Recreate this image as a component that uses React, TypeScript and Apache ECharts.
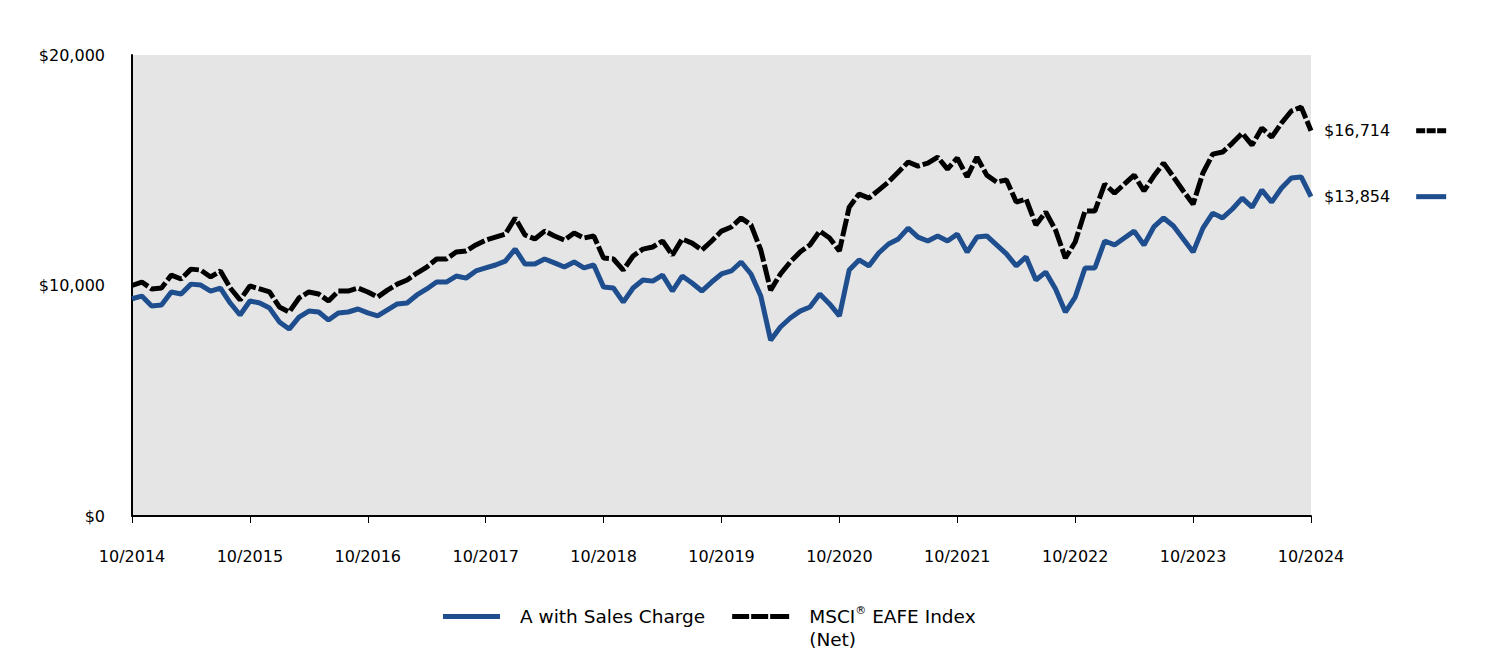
import React, { useEffect, useRef } from "react";
import * as echarts from "echarts";

const months: string[] = [];
for (let i = 0; i <= 120; i++) {
  const m = ((9 + i) % 12) + 1;
  const y = 2014 + Math.floor((9 + i) / 12);
  months.push(`${m}/${y}`);
}

const fundA: number[] = [
  9425, 9540, 9110, 9150, 9720, 9630, 10060, 10020, 9760, 9890, 9240, 8720,
  9330, 9240, 9020, 8420, 8110, 8630, 8890, 8850, 8500, 8810, 8850, 8980,
  8810, 8680, 8940, 9200, 9240, 9590, 9850, 10150, 10150, 10410, 10320, 10630,
  10760, 10890, 11060, 11580, 10930, 10930, 11150, 10980, 10800, 11020, 10760, 10890,
  9930, 9890, 9280, 9890, 10240, 10190, 10450, 9760, 10410, 10110, 9760, 10150,
  10500, 10630, 11020, 10500, 9540, 7630, 8200, 8590, 8890, 9070, 9630, 9200,
  8680, 10670, 11110, 10850, 11410, 11800, 12020, 12490, 12100, 11930, 12150, 11930,
  12230, 11450, 12100, 12150, 11760, 11370, 10850, 11240, 10240, 10580, 9850, 8850,
  9500, 10760, 10760, 11930, 11760, 12060, 12360, 11760, 12540, 12930, 12580, 12020,
  11450, 12490, 13140, 12930, 13320, 13790, 13400, 14140, 13620, 14230, 14660, 14710,
  13854,
];

const eafe: number[] = [
  10000, 10150, 9850, 9890, 10450, 10280, 10710, 10670, 10370, 10630, 9890, 9370,
  9980, 9850, 9720, 9070, 8850, 9460, 9720, 9630, 9330, 9760, 9760, 9890,
  9720, 9500, 9800, 10060, 10240, 10540, 10800, 11150, 11150, 11450, 11500, 11760,
  11970, 12100, 12230, 12930, 12190, 12020, 12360, 12150, 11970, 12280, 12060, 12150,
  11190, 11150, 10670, 11280, 11580, 11670, 11930, 11320, 12020, 11840, 11540, 11930,
  12360, 12540, 12930, 12630, 11540, 9800, 10500, 11020, 11450, 11760, 12360, 12060,
  11500, 13400, 13970, 13790, 14140, 14490, 14920, 15360, 15180, 15310, 15570, 15050,
  15530, 14710, 15570, 14790, 14490, 14580, 13620, 13750, 12630, 13190, 12400, 11190,
  11890, 13230, 13230, 14400, 14010, 14400, 14790, 14100, 14750, 15310, 14710, 14100,
  13530, 14880, 15700, 15790, 16180, 16610, 16090, 16830, 16440, 17050, 17570, 17740,
  16714,
];

const seriesNames = ["A with Sales Charge", "MSCI® EAFE Index (Net)"];
const yTicks = [0, 10000, 20000];

const BLUE = "#1f4e8f";
const BLACK = "#000000";
const FONT = "DejaVu Sans";

const money = (v: number) => "$" + v.toLocaleString("en-US");

export default function App() {
  const ref = useRef<HTMLDivElement>(null);
  useEffect(() => {
    if (!ref.current) return;
    const chart = echarts.init(ref.current, undefined, { renderer: "svg" });
    const showIdx = (i: number) => i % 12 === 0;
    const endRich = {
      v: { fontFamily: FONT, fontSize: 16, color: "#000", verticalAlign: "middle" as const },
      sp: { width: 26, height: 5, verticalAlign: "middle" as const },
      b: { width: 30, height: 5, backgroundColor: BLUE, verticalAlign: "middle" as const },
      d: { width: 9, height: 5, backgroundColor: BLACK, verticalAlign: "middle" as const },
      g: { width: 1.5, height: 5, verticalAlign: "middle" as const },
    };
    chart.setOption({
      animation: false,
      backgroundColor: "#ffffff",
      grid: {
        left: 132,
        right: 177,
        top: 55,
        bottom: 144,
        show: true,
        backgroundColor: "#e5e5e5",
        borderWidth: 0,
      },
      legend: {
        left: 443,
        top: 584,
        padding: 0,
        itemWidth: 57,
        itemHeight: 5,
        itemGap: 27,
        selectedMode: false,
        data: [
          { name: seriesNames[0], icon: "rect", itemStyle: { color: BLUE } },
          {
            name: seriesNames[1],
            icon: "path://M0,0h17v5h-17z M19,0h17v5h-17z M38,0h19v5h-19z",
            itemStyle: { color: BLACK },
          },
        ],
        formatter: (name: string) =>
          name === seriesNames[0]
            ? "{p|A with Sales Charge}"
            : "{p| }\n{p|MSCI}{sup|®}{q| EAFE Index}\n{p|(Net)}",
        textStyle: {
          fontFamily: FONT,
          fontSize: 18.5,
          color: "#000",
          rich: {
            p: { fontFamily: FONT, fontSize: 18.5, lineHeight: 23, color: "#000", padding: [0, 0, 0, 15] },
            q: { fontFamily: FONT, fontSize: 18.5, lineHeight: 23, color: "#000" },
            sup: { fontFamily: FONT, fontSize: 11, lineHeight: 23, color: "#000", verticalAlign: "top", padding: [0, 0, 8, 0] },
          },
        },
      },
      xAxis: {
        type: "category",
        data: months,
        boundaryGap: false,
        axisLine: { show: true, lineStyle: { color: "#000", width: 2 } },
        axisTick: { show: true, interval: (i: number) => showIdx(i), length: 7, lineStyle: { color: "#000", width: 1 } },
        axisLabel: {
          interval: (i: number) => showIdx(i),
          formatter: (v: string) => {
            const [m, y] = v.split("/");
            return `${m.padStart(2, "0")}/${y}`;
          },
          fontFamily: FONT,
          fontSize: 16,
          color: "#000",
          margin: 32,
        },
        splitLine: { show: false },
      },
      yAxis: {
        type: "value",
        min: yTicks[0],
        max: yTicks[yTicks.length - 1],
        interval: yTicks[1] - yTicks[0],
        axisLine: { show: true, lineStyle: { color: "#000", width: 2 } },
        axisTick: { show: false },
        axisLabel: {
          formatter: (v: number) => money(v),
          fontFamily: FONT,
          fontSize: 16,
          color: "#000",
          margin: 27,
        },
        splitLine: { show: false },
      },
      series: [
        {
          name: seriesNames[0],
          type: "line",
          data: fundA,
          symbol: "none",
          color: BLUE,
          lineStyle: { color: BLUE, width: 5 },
          z: 3,
          endLabel: {
            show: true,
            distance: 13,
            formatter: (p: any) => `{v|${money(p.value)}}{sp|}{b|}`,
            rich: endRich,
          },
        },
        {
          name: seriesNames[1],
          type: "line",
          data: eafe,
          symbol: "none",
          color: BLACK,
          lineStyle: { color: BLACK, width: 5, type: [18, 3] },
          z: 2,
          endLabel: {
            show: true,
            distance: 13,
            formatter: (p: any) => `{v|${money(p.value)}}{sp|}{d|}{g|}{d|}{g|}{d|}`,
            rich: endRich,
          },
        },
      ],
    });
    return () => chart.dispose();
  }, []);
  return (
    <div
      ref={ref}
      style={{ position: "fixed", left: 0, top: 0, width: 1488, height: 660, background: "#fff" }}
    />
  );
}
